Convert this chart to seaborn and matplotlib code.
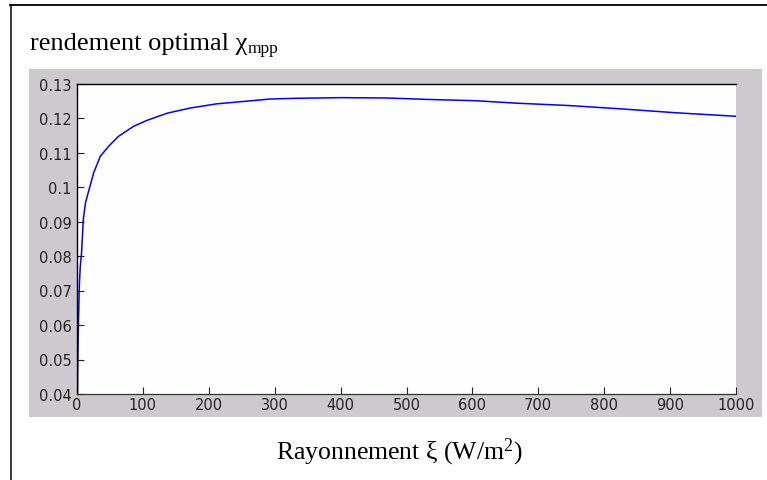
import matplotlib
matplotlib.use("Agg")
import matplotlib.pyplot as plt
import seaborn as sns
import numpy as np
from matplotlib.lines import Line2D
from matplotlib.patches import Rectangle

# ---- data ----
irradiance = [0, 1, 2, 3.5, 5, 7, 9.6, 13, 17.7, 25.3, 35.4, 48, 63, 86, 106, 137,
              172, 212, 253, 293, 330, 400, 470, 530, 606, 667, 748, 829, 910, 1000]
efficiency = [0.0, 0.045, 0.059, 0.0714, 0.077, 0.0811, 0.0907, 0.0955, 0.0988,
              0.1041, 0.1089, 0.1118, 0.1147, 0.1176, 0.1193, 0.1214, 0.1229,
              0.1241, 0.1248, 0.1255, 0.1257, 0.1259, 0.1258, 0.1254, 0.1250,
              0.1243, 0.1236, 0.1226, 0.1215, 0.1205]
xticks = [0, 100, 200, 300, 400, 500, 600, 700, 800, 900, 1000]
yticks = [0.04, 0.05, 0.06, 0.07, 0.08, 0.09, 0.1, 0.11, 0.12, 0.13]
ytick_labels = ["0.04", "0.05", "0.06", "0.07", "0.08", "0.09", "0.1", "0.11", "0.12", "0.13"]
title_main = "rendement optimal χ"
title_sub = "mpp"
xlabel_text = "Rayonnement ξ (W/m$^{2}$)"

W, H = 767, 481
DPI = 100
plt.rcParams['mathtext.fontset'] = 'custom'
plt.rcParams['mathtext.rm'] = 'Liberation Serif'
plt.rcParams['mathtext.it'] = 'Liberation Serif:italic'

fig = plt.figure(figsize=(W / DPI, H / DPI), dpi=DPI, facecolor='white')

def fx(px):
    return px / W

def fy(py):
    return 1 - py / H

# outer frame lines (top and left)
fig.add_artist(Line2D([fx(10), fx(767)], [fy(6), fy(6)], color='black', lw=1.3,
                      transform=fig.transFigure))
fig.add_artist(Line2D([fx(10.5), fx(10.5)], [fy(6), fy(481)], color='black', lw=1.1,
                      transform=fig.transFigure))

# gray figure-like panel
gray = '#CDC9CE'
fig.add_artist(Rectangle((fx(29), fy(418)), fx(762) - fx(29), fy(70) - fy(418),
                         transform=fig.transFigure, facecolor=gray, edgecolor='none', zorder=0))

# axes
ax = fig.add_axes([fx(77), fy(395), fx(736) - fx(77), fy(84.5) - fy(395)])
ax.set_facecolor('#FEFEFE')
sns.lineplot(x=irradiance, y=efficiency, ax=ax, color='#0000FF', lw=1.1,
             estimator=None, sort=False)
ax.set_xlim(0, 1000)
ax.set_ylim(0.04, 0.13)
ax.set_xticks(xticks)
ax.set_yticks(yticks)
ax.set_yticklabels(ytick_labels)
ax.tick_params(direction='in', length=4.8, width=0.8, colors='#222222',
               labelsize=10.5, pad=4)
ax.tick_params(axis='x', pad=2.5)
for lab in ax.get_xticklabels() + ax.get_yticklabels():
    lab.set_fontfamily('DejaVu Sans')
ax.spines['right'].set_visible(False)
ax.spines['top'].set_color('black')
ax.spines['top'].set_linewidth(1.0)
ax.spines['left'].set_color('black')
ax.spines['left'].set_linewidth(1.0)
ax.spines['bottom'].set_color('#333333')
ax.spines['bottom'].set_linewidth(0.9)
ax.set_xlabel('')
ax.set_ylabel('')

# title with subscript
fs_title = 19
t1 = fig.text(fx(30.5), fy(50), title_main, fontsize=fs_title, family='Liberation Serif',
              ha='left', va='baseline', color='black')
fig.canvas.draw()
r = fig.canvas.get_renderer()
bb = t1.get_window_extent(renderer=r)
fig.text(bb.x1 / W, fy(53), title_sub, fontsize=fs_title * 0.66, family='Liberation Serif',
         ha='left', va='baseline', color='black')

# x label
fig.text(fx(399), fy(459), xlabel_text, fontsize=18.5, family='Liberation Serif',
         ha='center', va='baseline', color='black')

fig.savefig('out.png', dpi=DPI, facecolor='white')
